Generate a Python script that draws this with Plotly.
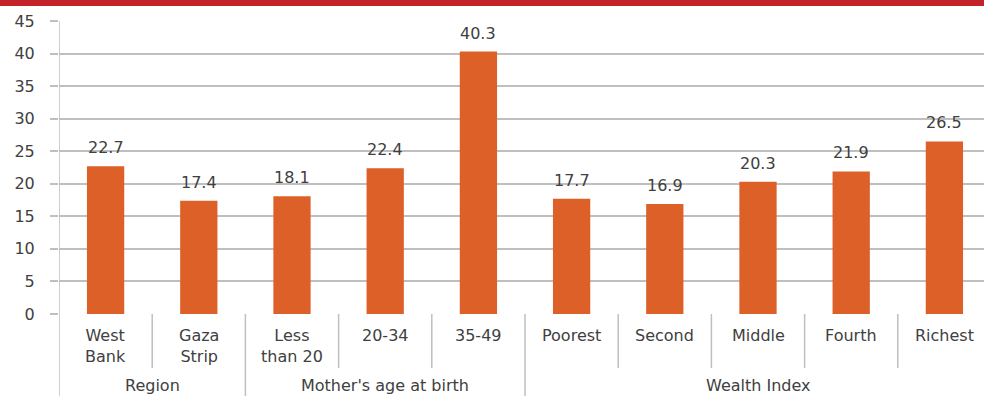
import plotly.graph_objects as go

# Category data
categories = ["West<br>Bank", "Gaza<br>Strip", "Less<br>than 20", "20-34", "35-49",
              "Poorest", "Second", "Middle", "Fourth", "Richest"]
values = [22.7, 17.4, 18.1, 22.4, 40.3, 17.7, 16.9, 20.3, 21.9, 26.5]
groups = ["Region", "Mother's age at birth", "Wealth Index"]
group_sizes = [2, 3, 5]
y_ticks = [0, 5, 10, 15, 20, 25, 30, 35, 40, 45]

W, H = 984, 396
ML, MR, MT, MB = 59, 0, 21, 82
plot_w = W - ML - MR
plot_h = H - MT - MB
cat_px = 93.2  # pixel width of one category slot
x_max = -0.5 + plot_w / cat_px

BAR = "#DC6028"
TXT = "#404040"
GRID = "#BFBFBF"
FONT = "DejaVu Sans"
FS = 16

xs = list(range(len(values)))

fig = go.Figure()
fig.add_trace(go.Bar(
    x=xs, y=values, width=0.4,
    marker=dict(color=BAR, line=dict(width=0)),
    hoverinfo="skip",
))

annotations = []
# value labels above bars
for x, v in zip(xs, values):
    annotations.append(dict(
        x=x, y=v, xref="x", yref="y", text=f"{v:.1f}", showarrow=False,
        yanchor="bottom", yshift=7, font=dict(family=FONT, size=FS, color=TXT),
    ))
# category labels
for x, c in zip(xs, categories):
    annotations.append(dict(
        x=x, y=0, xref="x", yref="paper", text=c, showarrow=False,
        yanchor="top", yshift=-10, font=dict(family=FONT, size=FS, color=TXT),
    ))

shapes = []
line_style = dict(color=GRID, width=1.5)
# separators between categories and groups
group_bounds = [-0.5]
for s in group_sizes:
    group_bounds.append(group_bounds[-1] + s)
for b in range(1, len(values)):
    bx = b - 0.5
    is_group = bx in group_bounds
    y_end = -(MB + 2) / plot_h if is_group else -54 / plot_h
    shapes.append(dict(type="line", xref="x", yref="paper", x0=bx, x1=bx,
                       y0=0, y1=y_end, line=line_style))
# group labels
for i, g in enumerate(groups):
    cx = (group_bounds[i] + group_bounds[i + 1]) / 2
    annotations.append(dict(
        x=cx, y=0, xref="x", yref="paper", text=g, showarrow=False,
        yanchor="middle", yshift=-71, font=dict(family=FONT, size=FS, color=TXT),
    ))
# left axis line extended down through the label rows
shapes.append(dict(type="line", xref="x", yref="paper", x0=-0.5, x1=-0.5,
                   y0=1, y1=-(MB + 2) / plot_h, line=line_style))
# red band across the top
shapes.append(dict(type="rect", xref="paper", yref="paper",
                   x0=-ML / plot_w - 0.01, x1=1.01,
                   y0=1 + (MT - 6) / plot_h, y1=1 + (MT + 2) / plot_h,
                   fillcolor="#C4222A", line=dict(width=0)))

fig.update_layout(
    width=W, height=H,
    margin=dict(l=ML, r=MR, t=MT, b=MB, pad=0),
    paper_bgcolor="white", plot_bgcolor="white",
    showlegend=False, bargap=0.6,
    font=dict(family=FONT, size=FS, color=TXT),
    xaxis=dict(range=[-0.5, x_max], showticklabels=False, showgrid=False,
               zeroline=False, showline=False, ticks=""),
    yaxis=dict(range=[0, 45], tickvals=y_ticks, showgrid=True, gridcolor=GRID,
               gridwidth=1.5, zeroline=False, showline=False,
               ticks="outside", ticklen=8, tickcolor=GRID, tickwidth=1.5,
               ticklabelstandoff=12,
               tickfont=dict(family=FONT, size=FS, color=TXT)),
    annotations=annotations, shapes=shapes,
)

fig.write_html("out.html")
